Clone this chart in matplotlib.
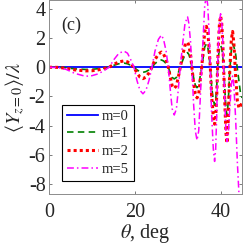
import matplotlib
matplotlib.use("Agg")
import matplotlib.pyplot as plt

plt.rcParams['font.family'] = ['Liberation Serif', 'DejaVu Serif']
plt.rcParams['mathtext.fontset'] = 'stix'
plt.rcParams['axes.unicode_minus'] = False

# ---------------- data ----------------
theta = [0, 2, 4, 6, 8.5, 10, 11.5, 13, 14,
         15.2, 16.3, 17.5, 18.3, 19.0, 19.8,
         20.5, 21.2, 21.9, 22.6, 23.3, 24.0,
         24.7, 25.5, 26.2, 26.7, 27.3, 27.8,
         28.3, 28.7, 29.2, 29.7, 30.1, 30.6,
         31.2, 31.7, 32.3, 32.6, 33.0, 33.3,
         33.7, 34.1, 34.5, 34.9, 35.2, 35.6,
         36.0, 36.3, 36.7, 37.0, 37.3, 37.6,
         37.9, 38.3, 38.6, 38.85, 39.1, 39.3,
         39.5, 39.75, 40.0, 40.25, 40.5, 40.7,
         41.0, 41.25, 41.5, 41.8, 42.1, 42.5, 42.8, 43.1, 43.5, 43.9, 44.3, 44.6, 45.0]

m0 = [0.0] * len(theta)

m1 = [0, 0, -0.04, -0.11, -0.15, -0.14, -0.10, -0.04, 0,
      0.14, 0.24, 0.28, 0.24, 0.14, 0,
      -0.18, -0.30, -0.35, -0.30, -0.18, 0,
      0.25, 0.43, 0.50, 0.43, 0.25, 0,
      -0.40, -0.70, -0.80, -0.70, -0.40, 0,
      0.50, 0.87, 1.00, 0.87, 0.50, 0,
      -0.70, -1.22, -1.40, -1.22, -0.70, 0,
      0.80, 1.39, 1.60, 1.39, 0.80, 0,
      -1.30, -2.26, -2.60, -2.26, -1.30, 0,
      0.75, 1.30, 1.50, 1.30, 0.75, 0,
      -1.60, -2.85, -3.30, -2.30, -0.40, 1.20, 1.60, 1.40, 0.90, -0.10, -1.00, -1.70, -2.10]

m2 = [0, -0.01, -0.07, -0.18, -0.25, -0.24, -0.18, -0.07, 0,
      0.21, 0.37, 0.43, 0.37, 0.21, 0,
      -0.39, -0.68, -0.78, -0.68, -0.39, 0,
      0.52, 0.90, 1.04, 0.90, 0.52, 0,
      -0.73, -1.26, -1.45, -1.26, -0.73, 0,
      0.86, 1.50, 1.72, 1.50, 0.86, 0,
      -1.05, -1.83, -2.10, -1.83, -1.05, 0,
      1.40, 2.44, 2.80, 2.44, 1.40, 0,
      -1.95, -3.40, -3.90, -3.40, -1.95, 0,
      1.75, 3.05, 3.50, 3.05, 1.75, 0,
      -2.60, -4.50, -5.20, -3.50, -0.50, 1.90, 2.45, 1.60, -0.60, -2.30, -2.80, -2.70, -2.40]

m5 = [0, -0.02, -0.15, -0.42, -0.62, -0.58, -0.45, -0.20, 0,
      0.55, 0.96, 1.10, 0.96, 0.55, 0,
      -0.91, -1.58, -1.82, -1.58, -0.91, 0,
      1.10, 1.91, 2.20, 1.91, 1.10, 0,
      -1.64, -2.84, -3.27, -2.84, -1.64, 0,
      1.72, 3.00, 3.45, 3.00, 1.72, 0,
      -2.50, -4.35, -5.00, -4.35, -2.50, 0,
      2.45, 4.25, 4.90, 4.25, 2.45, 0,
      -3.20, -5.60, -6.45, -5.60, -3.20, 0,
      1.83, 3.17, 3.66, 3.17, 1.83, 0,
      -2.55, -4.40, -5.10, -4.50, -3.00, -1.20, -0.60, -1.30, -3.50, -6.50, -8.80, -9.80, -9.50]

labels = ['m=0', 'm=1', 'm=2', 'm=5']
xticks = [0, 20, 40]
yticks = [-8, -6, -4, -2, 0, 2, 4]

# ---------------- figure ----------------
fig = plt.figure(figsize=(2.45, 2.45), dpi=100)
ax = fig.add_axes([0.200, 0.207, 0.788, 0.791])

ax.plot(theta, m0, color=(0, 0, 1), lw=1.3, ls='-', label=labels[0])
ax.plot(theta, m1, color=(0, 0.5, 0), lw=1.2, ls=(0, (3.9, 2.6)), label=labels[1])
ax.plot(theta, m2, color=(1, 0, 0), lw=2.2, ls=(0, (1, 1.0)), label=labels[2])
ax.plot(theta, m5, color=(1, 0, 1), lw=1.1, ls=(0, (4.5, 2, 1, 2)), label=labels[3])

ax.set_xlim(0, 45)
ax.set_ylim(-8.7, 4.57)
ax.set_xticks(xticks)
ax.set_yticks(yticks)
ax.set_xticklabels([str(v) for v in xticks])
ax.set_yticklabels([str(v) for v in yticks])

gc = (0.15, 0.15, 0.15)
for s in ax.spines.values():
    s.set_color('0.55')
    s.set_linewidth(0.7)
ax.tick_params(direction='in', top=True, right=True, length=2.5, width=0.6,
               color='0.4', labelcolor=gc, labelsize=14.5)
ax.tick_params(axis='x', pad=6)
ax.tick_params(axis='y', pad=2.5)

ax.set_xlabel(r'$\theta$, deg', fontsize=14.5, color=gc, labelpad=0)
ax.set_ylabel(r'$\langle Y_{z=0}\rangle/\lambda$', fontsize=14.5, color=gc, labelpad=1)

ax.text(5.3, 2.85, '(c)', fontsize=13, color=gc, ha='center', va='center')

leg = ax.legend(loc='lower left', bbox_to_anchor=(0.069, 0.070), borderaxespad=0,
                fontsize=10.5, fancybox=False, framealpha=1, edgecolor='black',
                handlelength=2.1, handletextpad=0.25, labelspacing=0.3,
                borderpad=0.35)
leg.get_frame().set_linewidth(0.8)
for t in leg.get_texts():
    t.set_color(gc)

fig.savefig('out.png', dpi=100)
